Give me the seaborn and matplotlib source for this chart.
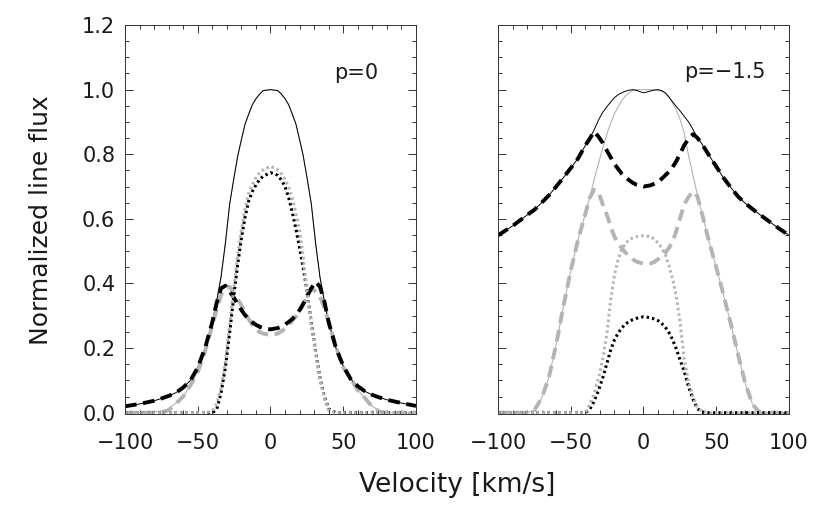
import numpy as np
import matplotlib
matplotlib.use("Agg")
import matplotlib.pyplot as plt
from matplotlib.ticker import MultipleLocator
import seaborn as sns

# velocity grid (km/s), shared by every curve
vel = [-100, -90, -80, -75, -70, -65, -60, -55, -50, -45, -40, -37, -34, -31, -28, -25,
       -22.5, -20, -17.5, -15, -12.5, -10, -7.5, -5,
       0,
       5, 7.5, 10, 12.5, 15, 17.5, 20, 22.5,
       25, 28, 31, 34, 37, 40, 45, 50, 55, 60, 65, 70, 75, 80, 90, 100]

# ---- p = 0 panel ----
p0_total = [0.020, 0.027, 0.037, 0.044, 0.052, 0.062, 0.078, 0.100, 0.140, 0.200, 0.280, 0.345, 0.420, 0.525, 0.648, 0.730,
            0.795, 0.845, 0.893, 0.924, 0.953, 0.972, 0.986, 0.997,
            1.000,
            0.997, 0.986, 0.972, 0.953, 0.924, 0.893, 0.845, 0.795,
            0.730, 0.648, 0.525, 0.420, 0.345, 0.280, 0.200, 0.145, 0.105, 0.082, 0.066, 0.055, 0.047, 0.040, 0.030, 0.021]
p0_thin = [0.000, 0.000, 0.002, 0.005, 0.012, 0.030, 0.050, 0.085, 0.130, 0.195, 0.280, 0.345, 0.420, 0.525, 0.648, 0.730,
           0.795, 0.845, 0.893, 0.924, 0.953, 0.972, 0.986, 0.997,
           1.000,
           0.997, 0.986, 0.972, 0.953, 0.924, 0.893, 0.845, 0.795,
           0.730, 0.648, 0.525, 0.420, 0.345, 0.280, 0.200, 0.140, 0.105, 0.070, 0.045, 0.020, 0.005, 0.000, 0.000, 0.000]
p0_dash_k = [0.020, 0.027, 0.037, 0.044, 0.052, 0.062, 0.078, 0.100, 0.140, 0.200, 0.280, 0.340, 0.385, 0.393, 0.375, 0.355,
             0.335, 0.318, 0.302, 0.290, 0.280, 0.272, 0.266, 0.262,
             0.258,
             0.262, 0.267, 0.273, 0.281, 0.290, 0.303, 0.318, 0.337,
             0.360, 0.385, 0.405, 0.390, 0.345, 0.280, 0.200, 0.145, 0.105, 0.082, 0.066, 0.055, 0.047, 0.040, 0.030, 0.021]
p0_dash_g = [0.000, 0.000, 0.000, 0.000, 0.008, 0.028, 0.050, 0.085, 0.125, 0.190, 0.270, 0.320, 0.365, 0.385, 0.390, 0.370,
             0.350, 0.333, 0.310, 0.290, 0.272, 0.258, 0.250, 0.245,
             0.240,
             0.245, 0.252, 0.260, 0.272, 0.285, 0.298, 0.313, 0.335,
             0.360, 0.385, 0.375, 0.360, 0.325, 0.280, 0.205, 0.140, 0.105, 0.070, 0.045, 0.018, 0.003, 0.000, 0.000, 0.000]
p0_dot_g = [0.0] * 10 + [0.005, 0.028, 0.075, 0.155, 0.275, 0.395,
                         0.490, 0.565, 0.632, 0.680, 0.705, 0.728, 0.743, 0.752,
                         0.763,
                         0.752, 0.740, 0.722, 0.698, 0.663, 0.618, 0.565, 0.482,
                         0.380, 0.273, 0.185, 0.105, 0.045, 0.008] + [0.0] * 10
p0_dot_k = [0.0] * 11 + [0.010, 0.060, 0.140, 0.250, 0.370,
                         0.460, 0.540, 0.605, 0.655, 0.685, 0.705, 0.722, 0.732,
                         0.743,
                         0.735, 0.720, 0.700, 0.665, 0.620, 0.568, 0.510, 0.448,
                         0.380, 0.280, 0.190, 0.108, 0.050, 0.012] + [0.0] * 10

# ---- p = -1.5 panel ----
p15_total = [0.549, 0.578, 0.612, 0.628, 0.650, 0.673, 0.700, 0.728, 0.757, 0.787, 0.827, 0.848, 0.875, 0.905, 0.930, 0.948,
             0.962, 0.975, 0.984, 0.990, 0.995, 0.998, 1.000, 0.998,
             0.990,
             0.996, 0.999, 1.000, 0.997, 0.990, 0.977, 0.962, 0.948,
             0.935, 0.917, 0.900, 0.877, 0.851, 0.833, 0.797, 0.762, 0.727, 0.697, 0.669, 0.648, 0.630, 0.613, 0.580, 0.549]
p15_thin = [0.000, 0.000, 0.000, 0.008, 0.045, 0.110, 0.212, 0.330, 0.440, 0.535, 0.615, 0.665, 0.720, 0.770, 0.820, 0.865,
            0.897, 0.925, 0.946, 0.965, 0.980, 0.990, 0.997, 1.000,
            1.000,
            1.000, 0.999, 0.997, 0.995, 0.990, 0.977, 0.960, 0.937,
            0.910, 0.865, 0.795, 0.735, 0.675, 0.620, 0.530, 0.450, 0.365, 0.275, 0.180, 0.090, 0.025, 0.000, 0.000, 0.000]
p15_dash_k = [0.549, 0.578, 0.612, 0.628, 0.650, 0.673, 0.700, 0.728, 0.757, 0.787, 0.827, 0.848, 0.870, 0.855, 0.835, 0.810,
              0.790, 0.770, 0.755, 0.740, 0.729, 0.720, 0.712, 0.706,
              0.700,
              0.704, 0.709, 0.715, 0.724, 0.735, 0.746, 0.760, 0.778,
              0.800, 0.828, 0.848, 0.862, 0.851, 0.833, 0.797, 0.762, 0.727, 0.697, 0.669, 0.648, 0.630, 0.613, 0.580, 0.549]
p15_dash_g = [0.000, 0.000, 0.000, 0.008, 0.045, 0.110, 0.212, 0.330, 0.440, 0.535, 0.615, 0.665, 0.690, 0.683, 0.645, 0.610,
              0.575, 0.545, 0.525, 0.510, 0.496, 0.485, 0.475, 0.468,
              0.461,
              0.462, 0.467, 0.475, 0.484, 0.495, 0.510, 0.530, 0.562,
              0.600, 0.645, 0.668, 0.685, 0.670, 0.620, 0.530, 0.450, 0.365, 0.275, 0.180, 0.090, 0.025, 0.000, 0.000, 0.000]
p15_dot_g = [0.0] * 11 + [0.025, 0.058, 0.105, 0.165, 0.250,
                          0.350, 0.425, 0.473, 0.505, 0.522, 0.535, 0.541, 0.545,
                          0.548,
                          0.545, 0.537, 0.525, 0.510, 0.490, 0.455, 0.415, 0.360,
                          0.285, 0.165, 0.095, 0.050, 0.018, 0.004] + [0.0] * 10
p15_dot_k = [0.0] * 11 + [0.010, 0.035, 0.068, 0.108, 0.155,
                          0.195, 0.225, 0.246, 0.262, 0.274, 0.282, 0.288, 0.292,
                          0.297,
                          0.294, 0.290, 0.285, 0.276, 0.265, 0.248, 0.226, 0.198,
                          0.165, 0.128, 0.080, 0.042, 0.013, 0.002] + [0.0] * 10

panel_labels = ["p=0", "p=\u22121.5"]

sns.set_style("ticks")
plt.rcParams['font.family'] = ['DejaVu Sans']
plt.rcParams['axes.unicode_minus'] = True

GRAY = "#b4b4b4"
TXT = "#1a1a1a"
DASH = (0, (3.0, 1.7))
DOT = (0, (0.8, 1.0))

fig = plt.figure(figsize=(8.3, 5.19), dpi=100)
ax1 = fig.add_axes([0.1506, 0.2023, 0.3506, 0.7495])
ax2 = fig.add_axes([0.6000, 0.2023, 0.3506, 0.7495])

panels = [
    (ax1, p0_total, p0_thin, p0_dash_k, p0_dash_g, p0_dot_k, p0_dot_g),
    (ax2, p15_total, p15_thin, p15_dash_k, p15_dash_g, p15_dot_k, p15_dot_g),
]

for ax, tot, thin, dk, dg, tk, tg in panels:
    sns.lineplot(x=vel, y=thin, ax=ax, color=GRAY, lw=0.8, estimator=None)
    sns.lineplot(x=vel, y=tot, ax=ax, color="black", lw=0.7, estimator=None)
    sns.lineplot(x=vel, y=dg, ax=ax, color=GRAY, lw=2.8, linestyle=DASH, estimator=None)
    sns.lineplot(x=vel, y=dk, ax=ax, color="black", lw=2.8, linestyle=DASH, estimator=None)
    sns.lineplot(x=vel, y=tk, ax=ax, color="black", lw=2.2, linestyle=DOT, estimator=None)
    sns.lineplot(x=vel, y=tg, ax=ax, color=GRAY, lw=2.2, linestyle=DOT, estimator=None)

    ax.set_xlim(-100, 100)
    ax.set_ylim(-0.004, 1.2)
    ax.xaxis.set_major_locator(MultipleLocator(50))
    ax.xaxis.set_minor_locator(MultipleLocator(10))
    ax.yaxis.set_major_locator(MultipleLocator(0.2))
    ax.yaxis.set_minor_locator(MultipleLocator(0.05))
    ax.tick_params(which='both', direction='in', top=True, right=True, width=0.7,
                   colors='#333333', labelsize=15, labelcolor=TXT)
    ax.tick_params(which='major', length=5.5)
    ax.tick_params(which='minor', length=3)
    ax.tick_params(axis='x', which='major', pad=14)
    ax.tick_params(axis='y', which='major', pad=7)
    ax.yaxis.set_major_formatter(plt.FormatStrFormatter('%.1f'))
    for sp in ax.spines.values():
        sp.set_linewidth(0.7)
        sp.set_color('#333333')
        sp.set_visible(True)
    ax.set_xlabel("")
    ax.set_ylabel("")

ax2.tick_params(labelleft=False)

ax1.text(59, 1.052, panel_labels[0], fontsize=15, ha='center', va='center', color=TXT)
ax2.text(56, 1.055, panel_labels[1], fontsize=15, ha='center', va='center', color=TXT)

fig.text(0.5506, 0.065, "Velocity [km/s]", fontsize=19, ha='center', va='center', color=TXT)
fig.text(0.050, 0.575, "Normalized line flux", fontsize=18, ha='center', va='center',
         rotation=90, color=TXT)

fig.savefig("out.png", dpi=100)
